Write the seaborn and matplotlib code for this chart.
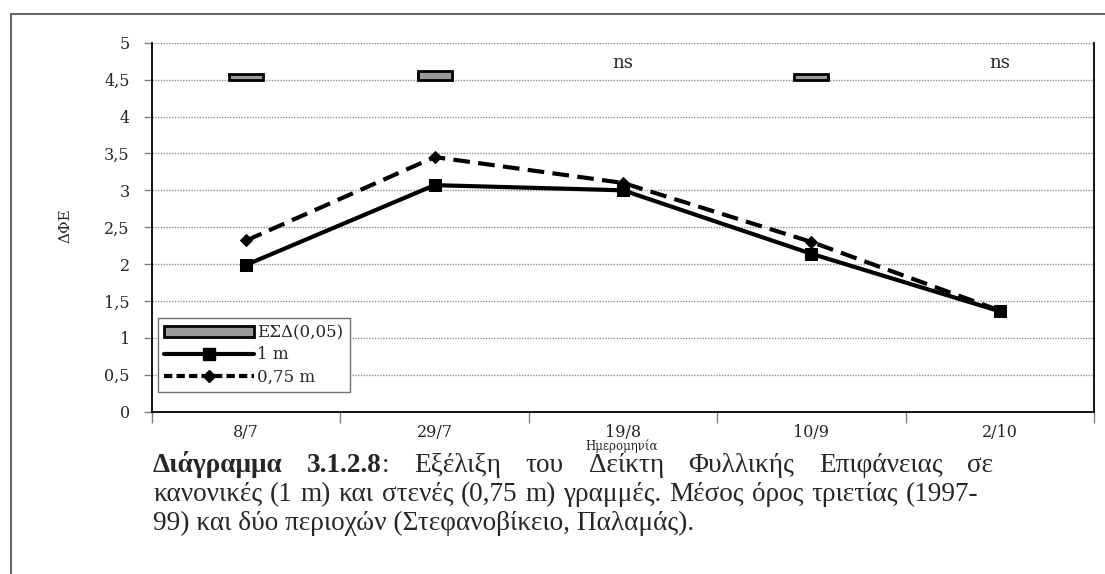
import numpy as np
import pandas as pd
import matplotlib
matplotlib.use('Agg')
import matplotlib.pyplot as plt
from matplotlib.lines import Line2D
from matplotlib.patches import Patch
import seaborn as sns

# data
dates = ['8/7', '29/7', '19/8', '10/9', '2/10']
lai_1m = [1.99, 3.07, 3.00, 2.14, 1.36]
lai_075m = [2.32, 3.45, 3.10, 2.30, 1.37]
lsd = [0.07, 0.11, np.nan, 0.08, np.nan]     # ΕΣΔ(0,05), NaN -> ns
lsd_base = 4.5
ns_labels = ['', '', 'ns', '', 'ns']
yticks = np.arange(0, 5.01, 0.5)

caption_line1 = ['Εξέλιξη', 'του', 'Δείκτη', 'Φυλλικής', 'Επιφάνειας', 'σε']
caption_line2 = 'κανονικές (1 m)  και στενές (0,75 m) γραμμές. Μέσος όρος τριετίας (1997-'
caption_line3 = '99) και δύο περιοχών (Στεφανοβίκειο, Παλαμάς).'

sns.set_theme(style='white')
plt.rcParams['font.family'] = ['DejaVu Serif']

W, H = 1105, 574
fig = plt.figure(figsize=(W / 100, H / 100), dpi=100)
fig.patch.set_facecolor('white')

def fx(px):
    return px / W

def fy(py):
    return 1 - py / H

ax = fig.add_axes([fx(152), fy(411.7), fx(1094) - fx(152), fy(42.7) - fy(411.7)])

df = pd.DataFrame({'date': dates, 'one': lai_1m, 'narrow': lai_075m, 'lsd': lsd})

# lines first so the category order follows the dates list
sns.lineplot(data=df, x='date', y='one', ax=ax, color='black', lw=3,
             marker='s', markersize=8, markeredgecolor='black', sort=False, zorder=4)
sns.lineplot(data=df, x='date', y='narrow', ax=ax, color='black', lw=3,
             linestyle=(0, (4, 2)), marker='D', markersize=6,
             markeredgecolor='black', sort=False, zorder=4)

# LSD bars floating at 4.5
bars = df.dropna(subset=['lsd'])
ax.bar(bars['date'], bars['lsd'], bottom=lsd_base, width=0.18,
       color='#9a9a9a', edgecolor='black', linewidth=2, zorder=3)

for i, txt in enumerate(ns_labels):
    if txt:
        ax.text(i, 4.73, txt, ha='center', va='center', fontsize=13)

ax.set_xlim(-0.5, len(dates) - 0.5)
ax.set_ylim(0, 5)
ax.set_yticks(yticks)
ax.set_yticklabels([f'{v:g}'.replace('.', ',') for v in yticks], fontsize=11.5)
ax.set_xticks(range(len(dates)))
ax.set_xticklabels(dates, fontsize=11.5)
ax.set_xticks(np.arange(-0.5, len(dates), 1), minor=True)
ax.tick_params(axis='x', which='major', length=0, pad=9)
ax.tick_params(axis='x', which='minor', length=8, color='#808080', width=1, bottom=True)
ax.tick_params(axis='y', length=6, color='#808080', width=1, pad=10, left=True)
ax.set_xlabel('')
ax.set_ylabel('')

ax.yaxis.grid(True, linestyle=(0, (1, 1)), color='#909090', lw=1)
ax.set_axisbelow(True)
for side in ['left', 'bottom', 'right']:
    ax.spines[side].set_visible(True)
    ax.spines[side].set_color('black')
    ax.spines[side].set_linewidth(1.3)
ax.spines['top'].set_visible(False)

handles = [
    Patch(facecolor='#9a9a9a', edgecolor='black', linewidth=2),
    Line2D([], [], color='black', lw=3, marker='s', markersize=8),
    Line2D([], [], color='black', lw=3, linestyle=(0, (2, 1)), marker='D', markersize=6),
]
leg = ax.legend(handles, ['ΕΣΔ(0,05)', '1 m', '0,75 m'], loc='lower left',
                bbox_to_anchor=(0.006, 0.053), borderaxespad=0, fontsize=12,
                handlelength=5.4, handletextpad=0.15, labelspacing=0.3,
                fancybox=False, framealpha=1, borderpad=0.4)
leg.get_frame().set_edgecolor('#707070')
leg.get_frame().set_linewidth(1)

fig.text(fx(65), fy(226), 'ΔΦΕ', rotation=90, ha='center', va='center', fontsize=11)
fig.text(fx(622), fy(446), 'Ημερομηνία', ha='center', va='center', fontsize=8.5)

# outer frame (left and top edges)
fig.add_artist(Line2D([fx(11), fx(11)], [0, fy(14)], transform=fig.transFigure,
                      color='#666666', lw=1.5))
fig.add_artist(Line2D([fx(11), 1], [fy(14), fy(14)], transform=fig.transFigure,
                      color='#666666', lw=1.5))

# caption: size picked so the second line has its natural width
cap_font = 'Liberation Serif'
renderer = fig.canvas.get_renderer()

def width_px(t):
    return t.get_window_extent(renderer=renderer).width

probe = fig.text(0, 0, caption_line2, fontsize=10, family=cap_font)
cap_size = 10 * 822 / width_px(probe)
probe.remove()

def cap_text(s, y, weight='normal'):
    return fig.text(0, fy(y), s, fontsize=cap_size, family=cap_font,
                    weight=weight, va='baseline', ha='left')

def place(groups, x0, x1):
    # groups: list of lists of texts glued together, spread evenly between x0 and x1
    widths = [sum(width_px(t) for t in g) for g in groups]
    gap = (x1 - x0 - sum(widths)) / (len(groups) - 1)
    x = x0
    for g, w in zip(groups, widths):
        xx = x
        for t in g:
            t.set_x(fx(xx))
            xx += width_px(t)
        x += w + gap

y1, y2, y3 = 472, 501, 530
line1 = [[cap_text('Διάγραμμα', y1, 'bold')],
         [cap_text('3.1.2.8', y1, 'bold'), cap_text(':', y1)]]
line1 += [[cap_text(w, y1)] for w in caption_line1]
place(line1, 153, 993)

line2 = [[cap_text(w, y2)] for w in caption_line2.replace('  ', ' ').split(' ')]
place(line2, 153, 978)

t3 = cap_text(caption_line3, y3)
t3.set_x(fx(153))

fig.savefig('out.png', dpi=100, facecolor='white')
